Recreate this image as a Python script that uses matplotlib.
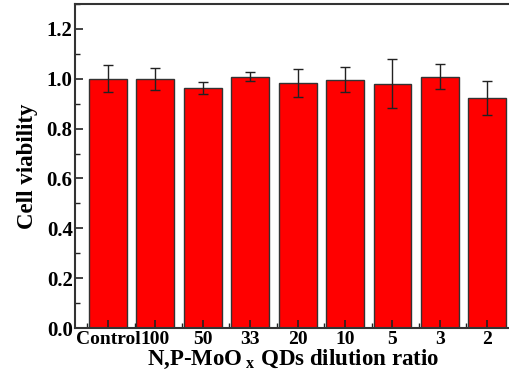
import numpy as np
import matplotlib.pyplot as plt
from matplotlib.ticker import MultipleLocator, FixedLocator

plt.rcParams['font.family'] = 'Liberation Serif'
plt.rcParams['font.weight'] = 'bold'
plt.rcParams['mathtext.fontset'] = 'custom'
plt.rcParams['mathtext.rm'] = 'Liberation Serif:bold'
plt.rcParams['mathtext.bf'] = 'Liberation Serif:bold'

# datos
labels = ["Control", "100", "50", "33", "20", "10", "5", "3", "2"]
viability = [1.000, 0.997, 0.964, 1.008, 0.983, 0.996, 0.980, 1.008, 0.922]
errors = [0.054, 0.044, 0.024, 0.019, 0.056, 0.051, 0.099, 0.049, 0.069]

fig = plt.figure(figsize=(5.09, 3.87), dpi=100)
ax = fig.add_axes([0.147, 0.152, 0.857, 0.838])

x = np.arange(len(labels))
ax.bar(x, viability, width=0.8, color="#ff0000", edgecolor="#333333", linewidth=1.0,
       yerr=errors, capsize=3.5,
       error_kw=dict(ecolor="#222222", elinewidth=1.0, capthick=1.0))

ax.set_xlim(-0.7, 8.5)
ax.set_ylim(0, 1.3)
ax.set_xticks(x)
ax.set_xticklabels(labels)
ax.xaxis.set_minor_locator(FixedLocator(np.arange(-0.44, 8.5, 1)))
ax.yaxis.set_major_locator(MultipleLocator(0.2))
ax.yaxis.set_minor_locator(MultipleLocator(0.1))
ax.yaxis.set_major_formatter(plt.FuncFormatter(lambda v, p: f"{v:.1f}"))

ax.tick_params(which="both", direction="in", top=False, right=False, colors="#222222")
ax.tick_params(which="major", length=6, width=1.2, labelsize=15, pad=1.5)
ax.tick_params(axis="x", which="major", labelsize=14, pad=2)
ax.tick_params(which="minor", length=3.5, width=1.0)
for lab in ax.get_xticklabels() + ax.get_yticklabels():
    lab.set_fontweight("bold")
    lab.set_color("black")
for s in ax.spines.values():
    s.set_linewidth(1.5)
    s.set_color("#333333")

ax.set_ylabel("Cell viability", fontsize=16.5, fontweight="bold", labelpad=6)
ax.set_xlabel(r"N,P-MoO$\,_{\mathbf{x}}$ QDs dilution ratio", fontsize=16.5, fontweight="bold", labelpad=0)

fig.savefig("out.png", dpi=100)
